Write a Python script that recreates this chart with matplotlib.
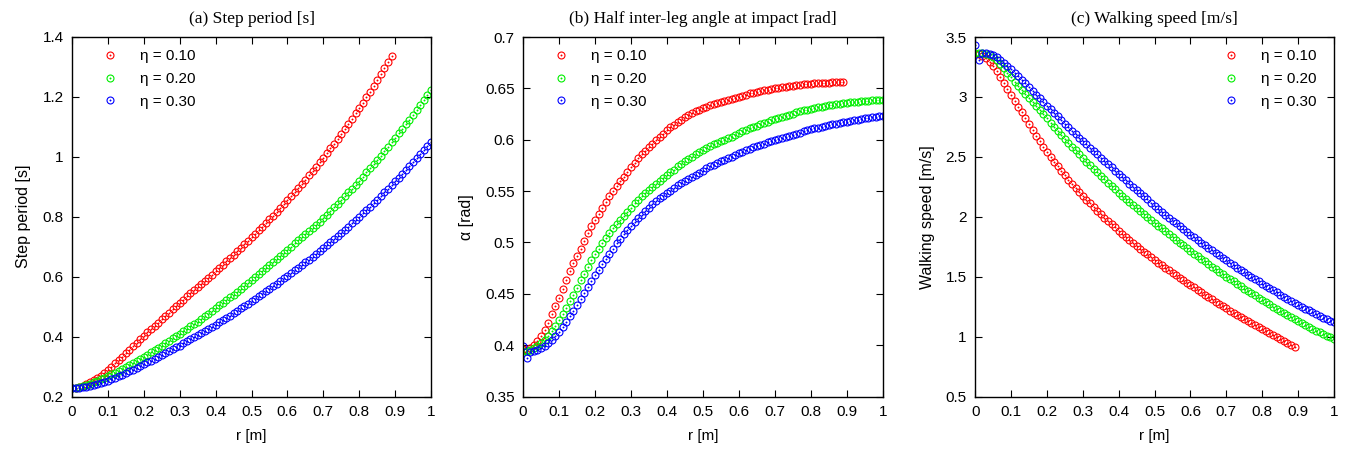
import numpy as np
import matplotlib
matplotlib.use("Agg")
import matplotlib.pyplot as plt
from matplotlib.legend_handler import HandlerTuple
from matplotlib.ticker import FuncFormatter

# ---------------- data ----------------
r_eta10 = np.round(np.arange(90) * 0.01, 2)    # 0 .. 0.89
r_eta20 = np.round(np.arange(101) * 0.01, 2)   # 0 .. 1.00
r_eta30 = np.round(np.arange(101) * 0.01, 2)   # 0 .. 1.00

labels = ["η = 0.10", "η = 0.20", "η = 0.30"]

# (a) step period [s]
T_eta10 = [0.228, 0.229, 0.232, 0.236, 0.241, 0.247, 0.254, 0.262, 0.270, 0.280,
           0.290, 0.300, 0.311, 0.322, 0.333, 0.344, 0.356, 0.368, 0.380, 0.391,
           0.403, 0.414, 0.425, 0.436, 0.447, 0.458, 0.469, 0.480, 0.491, 0.502,
           0.513, 0.523, 0.534, 0.544, 0.555, 0.565, 0.576, 0.586, 0.597, 0.607,
           0.618, 0.629, 0.640, 0.651, 0.662, 0.673, 0.685, 0.696, 0.708, 0.719,
           0.731, 0.743, 0.755, 0.767, 0.779, 0.792, 0.804, 0.817, 0.830, 0.843,
           0.856, 0.869, 0.883, 0.896, 0.910, 0.924, 0.938, 0.953, 0.967, 0.982,
           0.997, 1.012, 1.028, 1.044, 1.060, 1.076, 1.093, 1.110, 1.127, 1.145,
           1.163, 1.181, 1.199, 1.218, 1.237, 1.256, 1.275, 1.295, 1.315, 1.335]
T_eta20 = [0.228, 0.229, 0.231, 0.234, 0.238, 0.242, 0.247, 0.252, 0.257, 0.262,
           0.268, 0.274, 0.280, 0.286, 0.292, 0.298, 0.305, 0.312, 0.319, 0.326,
           0.333, 0.340, 0.348, 0.355, 0.363, 0.370, 0.378, 0.386, 0.394, 0.402,
           0.410, 0.418, 0.426, 0.434, 0.442, 0.450, 0.459, 0.468, 0.477, 0.486,
           0.495, 0.504, 0.513, 0.522, 0.531, 0.540, 0.550, 0.560, 0.570, 0.580,
           0.590, 0.600, 0.610, 0.620, 0.630, 0.640, 0.650, 0.660, 0.670, 0.680,
           0.690, 0.700, 0.711, 0.721, 0.732, 0.742, 0.753, 0.763, 0.774, 0.784,
           0.795, 0.807, 0.819, 0.831, 0.843, 0.855, 0.868, 0.881, 0.894, 0.907,
           0.920, 0.934, 0.948, 0.962, 0.976, 0.990, 1.004, 1.019, 1.033, 1.048,
           1.063, 1.078, 1.093, 1.109, 1.124, 1.140, 1.156, 1.172, 1.189, 1.205,
           1.222]
T_eta30 = [0.228, 0.228, 0.229, 0.231, 0.233, 0.235, 0.238, 0.241, 0.244, 0.248,
           0.252, 0.257, 0.262, 0.267, 0.272, 0.278, 0.284, 0.290, 0.296, 0.302,
           0.308, 0.314, 0.320, 0.326, 0.332, 0.338, 0.344, 0.351, 0.357, 0.364,
           0.370, 0.377, 0.384, 0.391, 0.398, 0.405, 0.412, 0.419, 0.426, 0.433,
           0.440, 0.448, 0.455, 0.463, 0.470, 0.478, 0.486, 0.494, 0.502, 0.510,
           0.518, 0.526, 0.535, 0.543, 0.552, 0.560, 0.569, 0.577, 0.586, 0.594,
           0.603, 0.612, 0.621, 0.630, 0.639, 0.648, 0.657, 0.667, 0.676, 0.686,
           0.695, 0.705, 0.715, 0.725, 0.735, 0.745, 0.756, 0.767, 0.778, 0.789,
           0.800, 0.811, 0.822, 0.834, 0.845, 0.857, 0.869, 0.881, 0.893, 0.906,
           0.918, 0.931, 0.943, 0.956, 0.969, 0.982, 0.995, 1.009, 1.022, 1.036,
           1.050]

# (b) half inter-leg angle at impact [rad]
A_eta10 = [0.396, 0.395, 0.397, 0.400, 0.404, 0.409, 0.415, 0.422, 0.430, 0.438,
           0.446, 0.455, 0.463, 0.472, 0.480, 0.487, 0.494, 0.501, 0.509, 0.516,
           0.522, 0.528, 0.534, 0.539, 0.545, 0.550, 0.555, 0.560, 0.564, 0.569,
           0.573, 0.577, 0.582, 0.586, 0.589, 0.593, 0.596, 0.600, 0.603, 0.606,
           0.609, 0.612, 0.614, 0.617, 0.619, 0.622, 0.624, 0.626, 0.628, 0.629,
           0.631, 0.632, 0.634, 0.635, 0.636, 0.637, 0.638, 0.639, 0.640, 0.641,
           0.642, 0.643, 0.644, 0.645, 0.6455, 0.6465, 0.647, 0.648, 0.6485, 0.649,
           0.650, 0.6505, 0.651, 0.6515, 0.652, 0.6525, 0.653, 0.6535, 0.654, 0.654,
           0.6545, 0.655, 0.655, 0.6553, 0.6555, 0.6556, 0.6558, 0.656, 0.656, 0.656]
A_eta20 = [0.394, 0.394, 0.395, 0.397, 0.399, 0.402, 0.405, 0.409, 0.414, 0.419,
           0.424, 0.430, 0.436, 0.443, 0.449, 0.456, 0.463, 0.469, 0.476, 0.483,
           0.489, 0.494, 0.499, 0.504, 0.509, 0.514, 0.518, 0.522, 0.526, 0.530,
           0.534, 0.538, 0.541, 0.545, 0.548, 0.551, 0.554, 0.557, 0.560, 0.563,
           0.566, 0.569, 0.571, 0.574, 0.576, 0.579, 0.581, 0.583, 0.586, 0.588,
           0.590, 0.592, 0.594, 0.596, 0.597, 0.599, 0.600, 0.602, 0.603, 0.605,
           0.6065, 0.608, 0.609, 0.611, 0.612, 0.6135, 0.615, 0.616, 0.6175, 0.619,
           0.620, 0.621, 0.622, 0.623, 0.6245, 0.6255, 0.6265, 0.6275, 0.6285, 0.629,
           0.630, 0.631, 0.6315, 0.632, 0.633, 0.6335, 0.634, 0.6345, 0.635, 0.6355,
           0.636, 0.6365, 0.637, 0.637, 0.6375, 0.638, 0.638, 0.6385, 0.6385, 0.639,
           0.639]
A_eta30 = [0.399, 0.387, 0.393, 0.394, 0.395, 0.397, 0.399, 0.402, 0.405, 0.409,
           0.413, 0.418, 0.423, 0.428, 0.433, 0.439, 0.445, 0.451, 0.457, 0.462,
           0.468, 0.473, 0.479, 0.484, 0.489, 0.494, 0.499, 0.503, 0.508, 0.512,
           0.516, 0.520, 0.524, 0.527, 0.531, 0.534, 0.537, 0.540, 0.543, 0.5455,
           0.548, 0.5505, 0.553, 0.5555, 0.558, 0.560, 0.562, 0.564, 0.566, 0.568,
           0.570, 0.572, 0.574, 0.5755, 0.577, 0.579, 0.5805, 0.582, 0.5835, 0.585,
           0.587, 0.588, 0.5895, 0.591, 0.5925, 0.594, 0.595, 0.596, 0.5975, 0.599,
           0.600, 0.601, 0.602, 0.603, 0.604, 0.605, 0.606, 0.607, 0.608, 0.609,
           0.610, 0.611, 0.6115, 0.6125, 0.613, 0.614, 0.615, 0.6155, 0.616, 0.617,
           0.6175, 0.618, 0.619, 0.6195, 0.620, 0.621, 0.6215, 0.622, 0.6225, 0.623,
           0.6235]

# (c) walking speed [m/s]
V_eta10 = [3.360, 3.356, 3.345, 3.325, 3.295, 3.258, 3.215, 3.168, 3.120, 3.070,
           3.020, 2.970, 2.920, 2.870, 2.820, 2.770, 2.723, 2.677, 2.631, 2.585,
           2.540, 2.499, 2.459, 2.420, 2.382, 2.345, 2.310, 2.275, 2.241, 2.208,
           2.175, 2.143, 2.112, 2.081, 2.050, 2.020, 1.992, 1.964, 1.937, 1.911,
           1.885, 1.859, 1.833, 1.807, 1.781, 1.755, 1.732, 1.709, 1.686, 1.663,
           1.640, 1.618, 1.596, 1.574, 1.552, 1.530, 1.510, 1.490, 1.470, 1.450,
           1.430, 1.410, 1.390, 1.370, 1.350, 1.330, 1.311, 1.292, 1.273, 1.254,
           1.235, 1.217, 1.199, 1.181, 1.163, 1.145, 1.128, 1.111, 1.094, 1.077,
           1.060, 1.044, 1.028, 1.012, 0.996, 0.980, 0.964, 0.948, 0.932, 0.916]
V_eta20 = [3.370, 3.368, 3.364, 3.357, 3.346, 3.330, 3.305, 3.275, 3.240, 3.202,
           3.163, 3.128, 3.093, 3.059, 3.025, 2.990, 2.956, 2.922, 2.888, 2.854,
           2.820, 2.786, 2.752, 2.718, 2.684, 2.650, 2.618, 2.586, 2.554, 2.522,
           2.490, 2.460, 2.430, 2.400, 2.370, 2.340, 2.312, 2.284, 2.256, 2.228,
           2.200, 2.174, 2.148, 2.122, 2.096, 2.070, 2.046, 2.022, 1.998, 1.974,
           1.950, 1.926, 1.902, 1.878, 1.854, 1.830, 1.807, 1.784, 1.761, 1.738,
           1.715, 1.693, 1.671, 1.649, 1.627, 1.605, 1.584, 1.563, 1.542, 1.521,
           1.500, 1.480, 1.460, 1.440, 1.420, 1.400, 1.381, 1.362, 1.343, 1.324,
           1.305, 1.287, 1.269, 1.251, 1.233, 1.215, 1.198, 1.181, 1.164, 1.147,
           1.130, 1.114, 1.098, 1.082, 1.066, 1.050, 1.036, 1.022, 1.008, 0.994,
           0.980]
V_eta30 = [3.430, 3.310, 3.365, 3.363, 3.358, 3.350, 3.333, 3.311, 3.286, 3.259,
           3.230, 3.201, 3.172, 3.142, 3.112, 3.082, 3.051, 3.020, 2.989, 2.958,
           2.927, 2.897, 2.867, 2.837, 2.807, 2.777, 2.748, 2.719, 2.690, 2.661,
           2.632, 2.604, 2.576, 2.548, 2.520, 2.492, 2.465, 2.438, 2.411, 2.384,
           2.357, 2.330, 2.303, 2.276, 2.249, 2.222, 2.196, 2.170, 2.144, 2.118,
           2.092, 2.067, 2.042, 2.017, 1.992, 1.968, 1.944, 1.920, 1.897, 1.874,
           1.851, 1.829, 1.807, 1.785, 1.763, 1.741, 1.720, 1.699, 1.678, 1.657,
           1.636, 1.616, 1.596, 1.576, 1.556, 1.536, 1.517, 1.498, 1.479, 1.460,
           1.441, 1.423, 1.405, 1.387, 1.369, 1.351, 1.334, 1.317, 1.300, 1.283,
           1.266, 1.250, 1.234, 1.218, 1.202, 1.186, 1.172, 1.158, 1.144, 1.131,
           1.119]

x_ticks = [0, 0.1, 0.2, 0.3, 0.4, 0.5, 0.6, 0.7, 0.8, 0.9, 1.0]
y_ticks_a = [0.2, 0.4, 0.6, 0.8, 1.0, 1.2, 1.4]
y_ticks_b = [0.35, 0.4, 0.45, 0.5, 0.55, 0.6, 0.65, 0.7]
y_ticks_c = [0.5, 1.0, 1.5, 2.0, 2.5, 3.0, 3.5]

titles = ["(a) Step period [s]", "(b) Half inter-leg angle at impact [rad]",
          "(c) Walking speed [m/s]"]
ylabels = ["Step period [s]", "α [rad]", "Walking speed [m/s]"]

# ---------------- style ----------------
colors = ["#ff0000", "#00ee00", "#0000ff"]
SANS = ["Liberation Sans", "DejaVu Sans"]
SERIF = ["Liberation Serif", "DejaVu Serif"]
plt.rcParams["font.family"] = SANS

W, H = 1349, 451
fig = plt.figure(figsize=(W / 100, H / 100), dpi=100)

def axes_px(left, right, top, bottom):
    return fig.add_axes([left / W, 1 - bottom / H, (right - left) / W, (bottom - top) / H])

ax_a = axes_px(72, 431, 37, 396.5)
ax_b = axes_px(523, 882.7, 37, 396.5)
ax_c = axes_px(975.2, 1334, 37, 396.5)

fmt = FuncFormatter(lambda v, p: "%g" % round(v, 4))

panels = [
    (ax_a, [T_eta10, T_eta20, T_eta30], y_ticks_a, (0.2, 1.4), "upper left"),
    (ax_b, [A_eta10, A_eta20, A_eta30], y_ticks_b, (0.35, 0.7), "upper left"),
    (ax_c, [V_eta10, V_eta20, V_eta30], y_ticks_c, (0.5, 3.5), "upper right"),
]
rs = [r_eta10, r_eta20, r_eta30]

for i, (ax, series, yt, ylim, loc) in enumerate(panels):
    handles = []
    for r, y, c in zip(rs, series, colors):
        h1, = ax.plot(r, y, linestyle="none", marker="o", markersize=5.0,
                      markerfacecolor="none", markeredgecolor=c, markeredgewidth=0.8)
        h2, = ax.plot(r, y, linestyle="none", marker="o", markersize=1.0,
                      markerfacecolor=c, markeredgecolor=c, markeredgewidth=0.3)
        handles.append((h1, h2))
    ax.set_xlim(0, 1)
    ax.set_ylim(*ylim)
    ax.set_xticks(x_ticks)
    ax.set_yticks(yt)
    ax.xaxis.set_major_formatter(fmt)
    ax.yaxis.set_major_formatter(fmt)
    ax.tick_params(direction="in", length=5, width=0.8, top=True, right=True,
                   labelsize=11, pad=6, colors="black")
    for s in ax.spines.values():
        s.set_linewidth(1.0)
    ax.set_title(titles[i], fontsize=12.5, family=SERIF, pad=10)
    ax.set_xlabel("r [m]", fontsize=11, labelpad=7)
    ax.set_ylabel(ylabels[i], fontsize=11.5, labelpad=8)
    if loc == "upper left":
        anchor = (0.059, 0.992)
    else:
        anchor = (0.978, 0.992)
    ax.legend(handles, labels, loc=loc, bbox_to_anchor=anchor, frameon=False,
              fontsize=11, handler_map={tuple: HandlerTuple(ndivide=1)},
              handlelength=1.0, handletextpad=1.46, labelspacing=0.58,
              borderaxespad=0.3, borderpad=0.3)

fig.savefig("out.png", dpi=100)
